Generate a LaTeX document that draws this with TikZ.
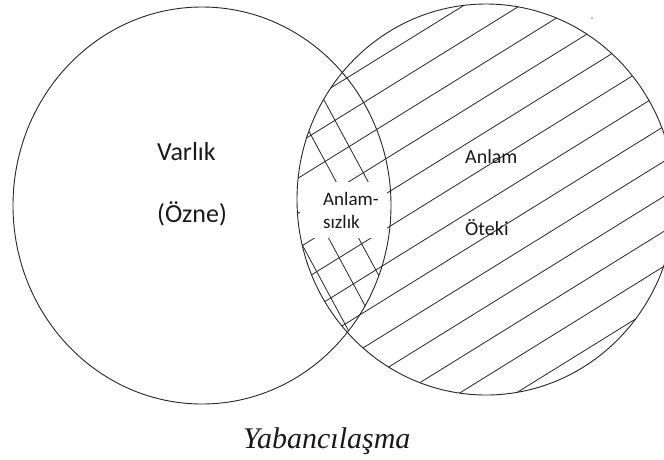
\documentclass[tikz,border=0pt]{standalone}
\usepackage{fontspec}
\setmainfont{Carlito}
\newfontfamily\capfont{Liberation Serif}
\begin{document}
\begin{tikzpicture}[x=1pt,y=-1pt,
  outline/.style={draw=black!85, line width=0.9pt},
  hatch/.style={draw=black!85, line width=0.8pt},
  lbl/.style={inner sep=0pt, anchor=base west, text=black!90}]
\useasboundingbox (0,0) rectangle (664,459);
% main hatching of the right circle
\begin{scope}
  \clip (486,199.5) ellipse [x radius=189, y radius=195.5];
  \foreach \c in {293,328,...,713} {
    \draw[hatch] (250,\c-0.62*250) -- (700,\c-0.62*700);
  }
\end{scope}
% cross hatching of the lens
\begin{scope}
  \clip (202,205.5) ellipse [x radius=189, y radius=198.5];
  \clip (486,199.5) ellipse [x radius=189, y radius=195.5];
  \foreach \d in {238,270} {
    \draw[hatch] (\d+0.54*40,40) -- (\d+0.54*210,210);
  }
  \foreach \d in {170,200,230} {
    \draw[hatch] (\d+0.54*210,210) -- (\d+0.54*345,345);
  }
\end{scope}
% gap behind the lens text
\fill[white] (300,182) rectangle (387,238);
% circles
\draw[outline] (202,205.5) ellipse [x radius=189, y radius=198.5];
\draw[outline] (486,199.5) ellipse [x radius=189, y radius=195.5];
\fill[black!55] (592,18) circle (0.8);
% texts
\node[lbl, font=\fontsize{26}{30}\selectfont] (varlik) at (157,160) {Varlık};
\node[lbl, font=\fontsize{26}{30}\selectfont] (ozne) at (157,222) {(Özne)};
\node[lbl, font=\fontsize{19}{22}\selectfont] (anlam1) at (323,205) {Anlam-};
\node[lbl, font=\fontsize{19}{22}\selectfont] (sizlik) at (323,228) {sızlık};
\node[lbl, font=\fontsize{20}{24}\selectfont] (anlam2) at (465,163) {Anlam};
\node[lbl, font=\fontsize{20}{24}\selectfont] (oteki) at (465,235) {Öteki};
\node[lbl, font=\capfont\itshape\fontsize{30}{34}\selectfont] (caption) at (243,448) {Yabancılaşma};
\end{tikzpicture}
\end{document}
